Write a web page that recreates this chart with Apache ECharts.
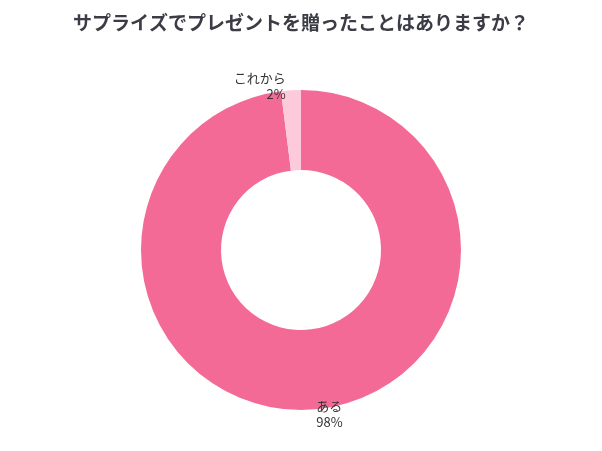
<!doctype html>
<html lang="ja">
<head>
	<meta charset="UTF-8">
	<title>サプライズ</title>
	<script src="https://cdn.jsdelivr.net/npm/echarts@6/dist/echarts.min.js"></script>
	<style>
		html, body { margin: 0; padding: 0; background: #fff; }
		#chart { width: 602px; height: 451px; }
	</style>
</head>
<body>
	<div id="chart"></div>
	<script>
		var names = ['ある', 'これから'];
		var values = [98, 2];
		var colors = ['#F46A96', '#FDCADB'];

		var chart = echarts.init(document.getElementById('chart'));
		var option = {
			title: {
				text: 'サプライズでプレゼントを贈ったことはありますか？',
				left: 'center',
				top: 8,
				textStyle: {
					fontFamily: 'Noto Sans CJK JP',
					fontSize: 19,
					fontWeight: 'bold',
					color: '#3c3c46'
				}
			},
			series: [
				{
					type: 'pie',
					center: [301, 250],
					radius: [80, 160],
					startAngle: 90,
					clockwise: true,
					label: {
						position: 'outside',
						formatter: '{b}\n{c}%',
						fontFamily: 'Noto Sans CJK JP',
						fontSize: 13,
						color: '#333',
						lineHeight: 16
					},
					labelLine: { show: false, length: 4, length2: 0 },
					itemStyle: { borderColor: '#fff', borderWidth: 0 },
					data: names.map(function (n, i) {
						return { name: n, value: values[i], itemStyle: { color: colors[i] } };
					})
				}
			]
		};
		chart.setOption(option);
	</script>
</body>
</html>
